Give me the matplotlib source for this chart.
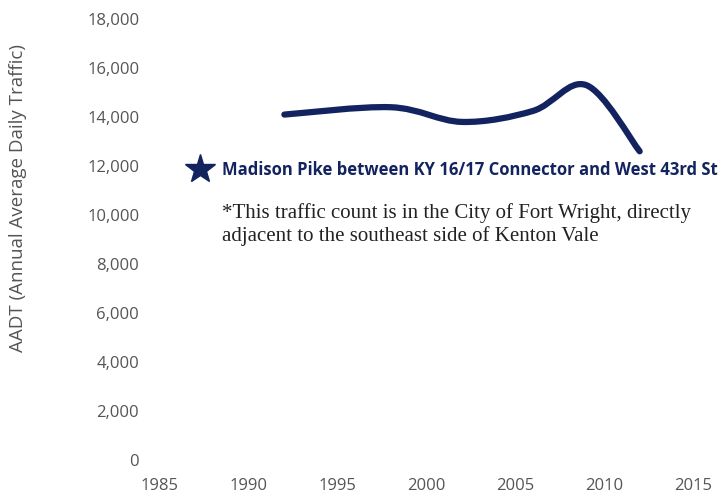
import numpy as np
import matplotlib.pyplot as plt
from matplotlib.path import Path
from matplotlib.patches import PathPatch
from matplotlib.lines import Line2D
from matplotlib.ticker import FuncFormatter

# AADT counts
years = [1992, 1998, 2002, 2006, 2009, 2012]
aadt = [14100, 14400, 13800, 14250, 15300, 12600]

series_label = "Madison Pike between KY 16/17 Connector and West 43rd St"
note = ("*This traffic count is in the City of Fort Wright, directly\n"
        "adjacent to the southeast side of Kenton Vale")

navy = "#13235f"
grey = "#555555"

plt.rcParams['font.family'] = ['Open Sans', 'DejaVu Sans']

fig = plt.figure(figsize=(7.22, 4.98), dpi=100)
ax = fig.add_axes([0.2216, 0.0763, 0.7382, 0.8855])


def smooth_path(xs, ys, t=0.5):
    # Catmull-Rom style bezier path through the data points (like Excel's smoothed line)
    xs = np.asarray(xs, float)
    ys = np.asarray(ys, float)
    n = len(xs)
    verts = [(xs[0], ys[0])]
    codes = [Path.MOVETO]
    for i in range(n - 1):
        p0 = (xs[max(i - 1, 0)], ys[max(i - 1, 0)])
        p1 = (xs[i], ys[i])
        p2 = (xs[i + 1], ys[i + 1])
        p3 = (xs[min(i + 2, n - 1)], ys[min(i + 2, n - 1)])
        c1 = (p1[0] + (p2[0] - p0[0]) * t / 3, p1[1] + (p2[1] - p0[1]) * t / 3)
        c2 = (p2[0] - (p3[0] - p1[0]) * t / 3, p2[1] - (p3[1] - p1[1]) * t / 3)
        verts += [c1, c2, p2]
        codes += [Path.CURVE4] * 3
    return Path(verts, codes)


patch = PathPatch(smooth_path(years, aadt), facecolor='none', edgecolor=navy,
                  lw=4.5, capstyle='round', joinstyle='round')
ax.add_patch(patch)

ax.set_xlim(1985, 2015)
ax.set_ylim(0, 18000)
ax.set_xticks(range(1985, 2016, 5))
ax.set_yticks(range(0, 18001, 2000))
ax.yaxis.set_major_formatter(FuncFormatter(lambda v, p: f"{int(v):,}"))
ax.tick_params(length=0, labelsize=12, labelcolor=grey)
ax.tick_params(axis='y', pad=15)
ax.tick_params(axis='x', pad=13)
for s in ax.spines.values():
    s.set_visible(False)

ax.set_ylabel("AADT (Annual Average Daily Traffic)", fontsize=13.5, color=grey)
ax.yaxis.set_label_coords(-0.25, 0.594)

handle = Line2D([], [], color=navy, marker='*', linestyle='none', markersize=22)
leg = ax.legend([handle], [series_label], loc='center left',
                bbox_to_anchor=(0.056, 0.657), frameon=False, handletextpad=0.7,
                handlelength=1.2, borderaxespad=0, borderpad=0,
                prop={'weight': 'bold', 'size': 12})
for txt in leg.get_texts():
    txt.set_color(navy)

ax.text(0.117, 0.583, note, transform=ax.transAxes, fontsize=15,
        family=['Liberation Serif', 'DejaVu Serif'], color='#222222',
        va='top', ha='left', linespacing=1.22)

fig.savefig("out.png", dpi=100)
